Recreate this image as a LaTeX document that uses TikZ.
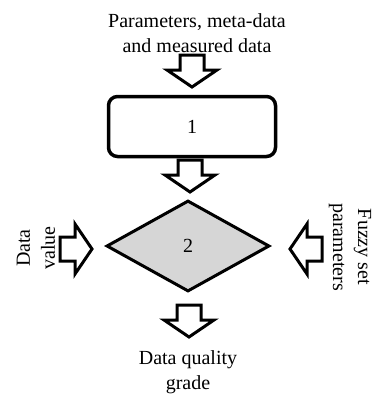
\documentclass[tikz,border=0pt]{standalone}
\usepackage{fontspec}
\setmainfont{Liberation Serif}
\usetikzlibrary{shapes.geometric}
\definecolor{dgray}{HTML}{D6D6D6}
\tikzset{
  lbl/.style={font=\fontsize{20}{25}\selectfont, align=center, inner sep=0pt},
  blockarrow/.pic={\draw[line width=3pt, line join=miter, fill=white]
     (0,0) -- (-25,-17) -- (-12,-17) -- (-12,-32) -- (12,-32) -- (12,-17) -- (25,-17) -- cycle;}
}
\begin{document}
\begin{tikzpicture}[x=1pt,y=-1pt]
\useasboundingbox (0,0) rectangle (374,397);
\node[lbl] (inp) at (197,33) {Parameters, meta-data\\and measured data};
\node[draw, rounded corners=9pt, line width=3.5pt, minimum width=167pt, minimum height=60pt, lbl] (b1) at (192,126.5) {1};
\node[diamond, draw, line width=3pt, fill=dgray, minimum width=163pt, minimum height=91pt, inner sep=0pt, lbl] (d2) at (188,246) {2};
\node[lbl, rotate=90] (dv) at (36,248) {Data\\value};
\node[lbl, rotate=-90] (fz) at (350,247) {Fuzzy set\\parameters};
\node[lbl] (out) at (188,372) {Data quality\\grade};
\coordinate (a1) at (192,87);
\coordinate (a2) at (190,192);
\coordinate (a3) at (189,337);
\coordinate (a4) at (92,249);
\coordinate (a5) at (290,249);
\pic at (a1) {blockarrow};
\pic at (a2) {blockarrow};
\pic at (a3) {blockarrow};
\pic[rotate=90] at (a4) {blockarrow};
\pic[rotate=-90] at (a5) {blockarrow};
\end{tikzpicture}
\end{document}
